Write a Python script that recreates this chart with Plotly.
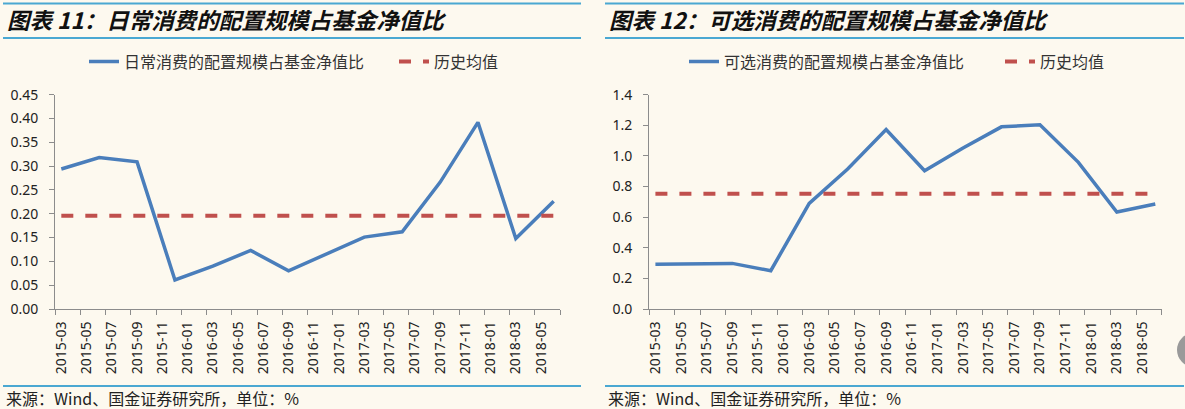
import plotly.graph_objects as go

W, H = 1185, 409

# ---------------- data ----------------
tick_labels = ["2015-03", "2015-05", "2015-07", "2015-09", "2015-11", "2016-01", "2016-03",
               "2016-05", "2016-07", "2016-09", "2016-11", "2017-01", "2017-03", "2017-05",
               "2017-07", "2017-09", "2017-11", "2018-01", "2018-03", "2018-05"]
quarters = ["2015-03", "2015-06", "2015-09", "2015-12", "2016-03", "2016-06", "2016-09",
            "2016-12", "2017-03", "2017-06", "2017-09", "2017-12", "2018-03", "2018-06"]
staples = [0.294, 0.318, 0.309, 0.061, 0.090, 0.123, 0.080, 0.116, 0.151, 0.162,
           0.266, 0.392, 0.148, 0.226]
staples_mean = 0.196
discretionary = [0.292, 0.295, 0.298, 0.250, 0.690, 0.915, 1.172, 0.903, 1.052, 1.190,
                 1.203, 0.958, 0.634, 0.686]
discretionary_mean = 0.753

title_left = "图表 11：日常消费的配置规模占基金净值比"
title_right = "图表 12：可选消费的配置规模占基金净值比"
name_left = "日常消费的配置规模占基金净值比"
name_right = "可选消费的配置规模占基金净值比"
name_mean = "历史均值"
source_text = "来源：Wind、国金证券研究所，单位：%"


def month_index(s):
    y, m = s.split("-")
    y0, m0 = tick_labels[0].split("-")
    return (int(y) - int(y0)) * 12 + int(m) - int(m0)


xq = [month_index(q) for q in quarters]
xlab = [month_index(t) for t in tick_labels]
xbound = [v - 0.5 for v in xlab] + [xlab[-1] + 1.5]

# ---------------- style ----------------
BG = "#FDF9EF"
BLUE = "#4A7EBB"
RED = "#C0504D"
RULE = "#4AA8D2"
AXIS = "#8C8C8C"
CJK = "Noto Sans CJK SC"
NUM = "Noto Sans, Noto Sans CJK SC"


def px(x):
    return x / W


def py(y):
    return 1 - y / H


fig = go.Figure()

fig.add_trace(go.Scatter(x=xq, y=staples, mode="lines", name=name_left,
                         line=dict(color=BLUE, width=3.5), xaxis="x", yaxis="y",
                         legend="legend"))
fig.add_trace(go.Scatter(x=xq, y=[staples_mean] * len(xq), mode="lines", name=name_mean,
                         line=dict(color=RED, width=4, dash="12px,12px"), xaxis="x", yaxis="y",
                         legend="legend"))
fig.add_trace(go.Scatter(x=xq, y=discretionary, mode="lines", name=name_right,
                         line=dict(color=BLUE, width=3.5), xaxis="x2", yaxis="y2",
                         legend="legend2"))
fig.add_trace(go.Scatter(x=xq, y=[discretionary_mean] * len(xq), mode="lines", name=name_mean,
                         line=dict(color=RED, width=4, dash="12px,12px"), xaxis="x2", yaxis="y2",
                         legend="legend2"))

xcommon = dict(
    range=[xbound[0], xbound[-1]], tickmode="array", tickvals=xlab, ticktext=tick_labels,
    tickangle=-90, ticks="", showline=True, linecolor=AXIS, linewidth=1,
    showgrid=False, zeroline=False, tickfont=dict(family=NUM, size=14, color="#222"),
    ticklabelstandoff=6,
    minor=dict(tickmode="array", tickvals=xbound, ticks="outside", ticklen=5,
               tickcolor=AXIS, tickwidth=1, showgrid=False),
    fixedrange=True,
)
ycommon = dict(
    showline=True, linecolor=AXIS, linewidth=1, ticks="outside", ticklen=5,
    tickcolor=AXIS, showgrid=False, zeroline=False, ticklabelstandoff=8,
    tickfont=dict(family=NUM, size=14, color="#222"), fixedrange=True,
)

ydom = [py(309), py(94.7)]

fig.update_layout(
    width=W, height=H, margin=dict(l=0, r=0, t=0, b=0, autoexpand=False),
    paper_bgcolor=BG, plot_bgcolor=BG,
    xaxis=dict(domain=[px(55), px(560)], anchor="y", **xcommon),
    yaxis=dict(domain=ydom, anchor="x", range=[0, 0.45], tickvals=[i * 0.05 for i in range(10)],
               tickformat=".2f", **ycommon),
    xaxis2=dict(domain=[px(649), px(1161.7)], anchor="y2", **xcommon),
    yaxis2=dict(domain=ydom, anchor="x2", range=[0, 1.4], tickvals=[i * 0.2 for i in range(8)],
                tickformat=".1f", **ycommon),
    legend=dict(orientation="h", x=px(84), y=py(61.5), xanchor="left", yanchor="middle",
                bgcolor="rgba(0,0,0,0)", font=dict(family=CJK, size=16, color="#333"),
                entrywidth=265, entrywidthmode="pixels", itemclick=False),
    legend2=dict(orientation="h", x=px(684), y=py(61.5), xanchor="left", yanchor="middle",
                 bgcolor="rgba(0,0,0,0)", font=dict(family=CJK, size=16, color="#333"),
                 entrywidth=271, entrywidthmode="pixels", itemclick=False),
    showlegend=True,
)

shapes = []
for (x0, x1) in [(3, 581), (605, 1184)]:
    for yy in (3.5, 38):
        shapes.append(dict(type="line", xref="paper", yref="paper", x0=px(x0), x1=px(x1),
                           y0=py(yy), y1=py(yy), line=dict(color=RULE, width=2)))
    shapes.append(dict(type="line", xref="paper", yref="paper", x0=px(x0), x1=px(x1),
                       y0=py(386), y1=py(386), line=dict(color=RULE, width=2)))
shapes.append(dict(type="circle", xref="paper", yref="paper", x0=px(1177), x1=px(1211),
                   y0=py(367), y1=py(333), fillcolor="#9A9A9A", line=dict(width=0)))
fig.update_layout(shapes=shapes)

ann = []
for x0, t in [(5, title_left), (607, title_right)]:
    ann.append(dict(text=t, xref="paper", yref="paper", x=px(x0), y=py(19), xanchor="left",
                    yanchor="middle", showarrow=False,
                    font=dict(family=CJK, size=22.5, color="#111", weight="bold", style="italic")))
for x0 in (4, 606):
    ann.append(dict(text=source_text, xref="paper", yref="paper", x=px(x0), y=py(398),
                    xanchor="left", yanchor="middle", showarrow=False,
                    font=dict(family=CJK, size=16, color="#222")))
fig.update_layout(annotations=ann)

fig.write_html("out.html", config={"displayModeBar": False},
               post_script="document.body.style.margin='0';document.body.style.background='%s';" % BG)
